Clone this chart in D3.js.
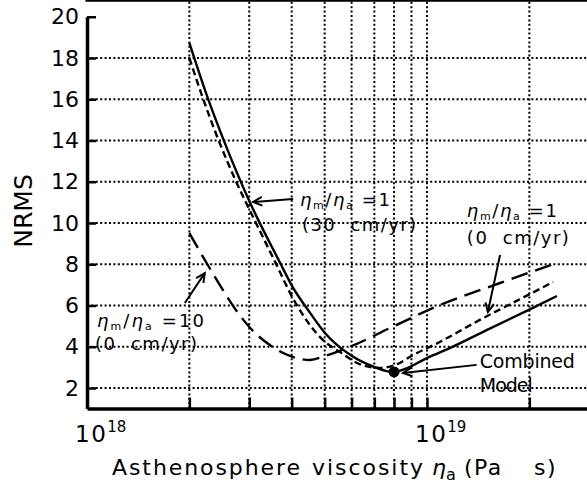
<!DOCTYPE html>
<html>
<head>
<meta charset="utf-8">
<script src="https://cdn.jsdelivr.net/npm/d3@7"></script>
<style>
  body { margin: 0; background: #fff; }
  text { font-family: "DejaVu Sans", sans-serif; fill: #000; white-space: pre; }
</style>
</head>
<body>
<svg id="chart" width="587" height="487"></svg>
<script>
// viscosity in units of 1e18 Pa s
var visc30 = [2.0, 2.25, 2.53, 3.02, 3.7, 4.04, 4.53, 5.01, 6.02, 6.99, 7.6, 8.05, 8.61, 10, 11.7, 15.3, 20, 24.1];
var nrms30 = [18.73, 16.2, 13.97, 10.97, 8.06, 6.85, 5.64, 4.67, 3.55, 3.02, 2.82, 2.78, 2.92, 3.45, 3.94, 4.88, 5.8, 6.46];

var visc0 = [2.0, 2.18, 2.43, 2.74, 3.1, 3.53, 4.09, 4.94, 5.55, 6.44, 7.27, 8.05, 9.1, 10.9, 14.3, 18.8, 23.5];
var nrms0 = [18.0, 16.16, 14.07, 12.04, 10.19, 8.3, 6.17, 4.33, 3.74, 3.11, 2.97, 3.11, 3.6, 4.23, 5.3, 6.31, 7.14];

var visc10 = [2.0, 2.38, 2.78, 3.02, 3.45, 4.04, 4.53, 5.01, 6.02, 7.79, 10.9, 16.4, 24.1];
var nrms10 = [9.51, 7.38, 5.64, 4.91, 4.08, 3.5, 3.36, 3.55, 4.04, 4.91, 6.02, 7.09, 8.06];

var combined = [8.0, 2.78];

var yTicks = [2, 4, 6, 8, 10, 12, 14, 16, 18, 20];
var xTicks = [2, 3, 4, 5, 6, 7, 8, 9, 10, 20];
var xLabels = [[1, "18"], [10, "19"]];

var svg = d3.select("#chart");
var x = d3.scaleLog().domain([1e18, 3e19]).range([87, 87 + 340 * Math.log10(30)]);
var y = d3.scaleLinear().domain([1, 20]).range([408.6, 16.75]);
var left = x.range()[0], right = x.range()[1], top = y.range()[1], bottom = y.range()[0];

function X(v) { return x(v * 1e18); }

// dotted grid
var grid = svg.append("g").attr("stroke", "#000").attr("stroke-width", 2).attr("stroke-dasharray", "2,2.4");
grid.selectAll(".h").data(yTicks.slice(0, -1)).enter().append("line")
	.attr("x1", left).attr("x2", right)
	.attr("y1", function (d) { return y(d); }).attr("y2", function (d) { return y(d); });
grid.selectAll(".v").data(xTicks).enter().append("line")
	.attr("y1", bottom).attr("y2", top)
	.attr("x1", function (d) { return X(d); }).attr("x2", function (d) { return X(d); });

// curves
var line = d3.line().curve(d3.curveMonotoneX)
	.x(function (d) { return X(d[0]); })
	.y(function (d) { return y(d[1]); });

var series = [
	{ v: visc30, n: nrms30, dash: null },
	{ v: visc0, n: nrms0, dash: "7,4" },
	{ v: visc10, n: nrms10, dash: "17,8" }
];
series.forEach(function (s) {
	svg.append("path")
		.datum(d3.zip(s.v, s.n))
		.attr("d", line)
		.attr("fill", "none")
		.attr("stroke", "#000")
		.attr("stroke-width", 2.4)
		.attr("stroke-dasharray", s.dash);
});

// axes
var yAxis = svg.append("g").attr("transform", "translate(" + left + ",0)")
	.call(d3.axisLeft(y).tickValues(yTicks).tickSize(-9).tickSizeOuter(0).tickPadding(8));
yAxis.selectAll("text").attr("font-size", 22).style("font-family", "DejaVu Sans");

var xAxis = svg.append("g").attr("transform", "translate(0," + bottom + ")")
	.call(d3.axisBottom(x).tickValues(xTicks.map(function (d) { return d * 1e18; }))
		.tickSize(-11).tickSizeOuter(0).tickFormat(""));

svg.selectAll(".domain").attr("stroke", "#000").attr("stroke-width", 3.5);
svg.selectAll(".tick line").attr("stroke", "#000").attr("stroke-width", 2.5);

svg.append("line").attr("x1", left - 1.5).attr("x2", right).attr("y1", top).attr("y2", top)
	.attr("stroke", "#000").attr("stroke-width", 3.5);

// x tick labels (powers of ten)
xLabels.forEach(function (d) {
	var t = svg.append("text").attr("x", X(d[0]) - 12).attr("y", 442).attr("font-size", 23).attr("letter-spacing", 1.5);
	t.append("tspan").text("10");
	t.append("tspan").attr("font-size", 15).attr("dy", -10).attr("letter-spacing", 0).text(d[1]);
});

// axis titles
svg.append("text")
	.attr("transform", "translate(32,211) rotate(-90)")
	.attr("text-anchor", "middle")
	.attr("font-size", 25)
	.text("NRMS");

var xt = svg.append("text").attr("y", 475).attr("font-size", 22);
xt.append("tspan").attr("x", 112).attr("textLength", 188).attr("lengthAdjust", "spacing").text("Asthenosphere");
xt.append("tspan").attr("x", 312).attr("textLength", 111).attr("lengthAdjust", "spacing").text("viscosity");
xt.append("tspan").attr("x", 432).attr("font-style", "italic").text("η");
xt.append("tspan").attr("font-size", 16).attr("dy", 5).text("a");
xt.append("tspan").attr("x", 464).attr("dy", -5).attr("letter-spacing", 1.5).text("(Pa");
xt.append("tspan").attr("x", 534).attr("letter-spacing", 1.5).text("s)");

// annotations
function ratioLabel(vx, vy, val, w) {
	var t = svg.append("text").attr("x", X(vx)).attr("y", y(vy)).attr("font-size", 18);
	t.append("tspan").attr("font-style", "italic").text("η");
	t.append("tspan").attr("font-size", 11).attr("dy", 3).text("m");
	t.append("tspan").attr("dy", -3).text("/");
	t.append("tspan").attr("font-style", "italic").text("η");
	t.append("tspan").attr("font-size", 11).attr("dy", 3).text("a");
	t.append("tspan").attr("dy", -3).text(" =" + val);
	t.attr("textLength", w).attr("lengthAdjust", "spacing");
}
function plainLabel(vx, vy, txt, size, w) {
	svg.append("text").attr("x", X(vx)).attr("y", y(vy)).attr("font-size", size)
		.attr("textLength", w).attr("lengthAdjust", "spacing").text(txt);
}
function arrow(fx, fy, tx, ty) {
	var x1 = X(fx), y1 = y(fy), x2 = X(tx), y2 = y(ty);
	var a = Math.atan2(y2 - y1, x2 - x1), len = 10, spread = 0.45;
	var g = svg.append("g").attr("stroke", "#000").attr("stroke-width", 2).attr("fill", "none");
	g.append("line").attr("x1", x1).attr("y1", y1).attr("x2", x2).attr("y2", y2);
	g.append("path").attr("d",
		"M" + (x2 - len * Math.cos(a - spread)) + "," + (y2 - len * Math.sin(a - spread)) +
		"L" + x2 + "," + y2 +
		"L" + (x2 - len * Math.cos(a + spread)) + "," + (y2 - len * Math.sin(a + spread)));
}

ratioLabel(4.23, 10.8, "1", 90);
plainLabel(4.29, 9.62, "(30  cm/yr)", 18, 114);
arrow(4.04, 11.16, 3.08, 11.02);

ratioLabel(13.1, 10.3, "1", 90);
plainLabel(13.1, 9.0, "(0  cm/yr)", 18, 102);
arrow(16.4, 8.45, 15.1, 5.68);

ratioLabel(1.07, 4.97, "10", 107);
plainLabel(1.056, 3.85, "(0  cm/yr)", 18, 102);
arrow(1.94, 6.12, 2.22, 7.57);

plainLabel(14.3, 2.97, "Combined", 19, 95);
plainLabel(14.3, 1.81, "Model", 19, 53);
arrow(14.0, 3.12, 8.5, 2.73);

svg.append("circle").attr("cx", X(combined[0])).attr("cy", y(combined[1])).attr("r", 5.5).attr("fill", "#000");
</script>
</body>
</html>
